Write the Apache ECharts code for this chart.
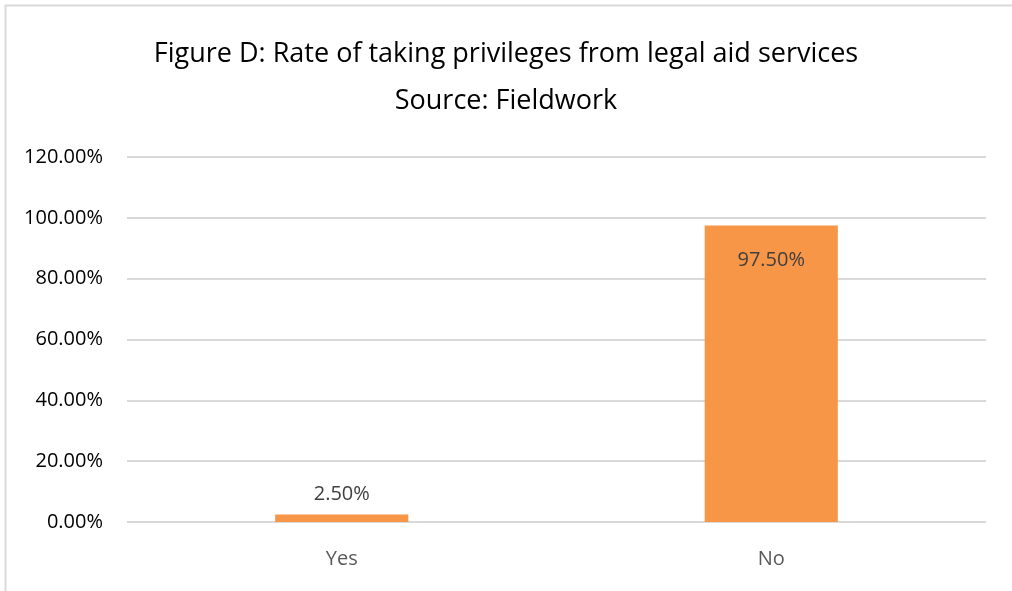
<!DOCTYPE html>
<html><head><meta charset="utf-8">
<script src="https://cdn.jsdelivr.net/npm/echarts@6/dist/echarts.min.js"></script>
<style>html,body{margin:0;padding:0;background:#fff}#c{width:1012px;height:591px}</style>
</head><body><div id="c"></div>
<script>
const categories = ['Yes', 'No'];
const values = [2.5, 97.5];
const yTicks = [0, 20, 40, 60, 80, 100, 120];
const titleLines = ['Figure D: Rate of taking privileges from legal aid services', 'Source: Fieldwork'];
const FONT = '"Open Sans", sans-serif';
const chart = echarts.init(document.getElementById('c'), null, {renderer: 'canvas'});
chart.setOption({
  animation: false,
  graphic: [{type: 'rect', shape: {x: 5.5, y: 5.5, width: 1100, height: 700}, style: {fill: 'none', stroke: '#d9d9d9', lineWidth: 2}, silent: true}],
  title: {text: titleLines.join('\n'), left: 'center', top: 26, textStyle: {fontFamily: FONT, fontSize: 27, fontWeight: 'normal', color: '#000', lineHeight: 47}},
  grid: {left: 127, right: 26, top: 157, bottom: 69, containLabel: false},
  xAxis: {type: 'category', data: categories, axisLine: {show: false}, axisTick: {show: false},
    axisLabel: {fontFamily: FONT, fontSize: 20, color: '#595959', margin: 27}},
  yAxis: {type: 'value', min: 0, max: 120, interval: 20,
    axisLabel: {fontFamily: FONT, fontSize: 20, color: '#000', margin: 24, formatter: v => yTicks.includes(v) ? v.toFixed(2) + '%' : ''},
    splitLine: {lineStyle: {color: '#d9d9d9', width: 2}}, axisLine: {show: false}, axisTick: {show: false}},
  series: [{type: 'bar', data: values.map((v, i) => ({value: v, label: i === 1 ? {position: 'insideTop', distance: 25} : {position: 'top', distance: 10}})),
    barWidth: '31%', itemStyle: {color: '#f79646'},
    label: {show: true, fontFamily: FONT, fontSize: 20, color: '#404040', formatter: p => p.value.toFixed(2) + '%'}}]
});
</script></body></html>
